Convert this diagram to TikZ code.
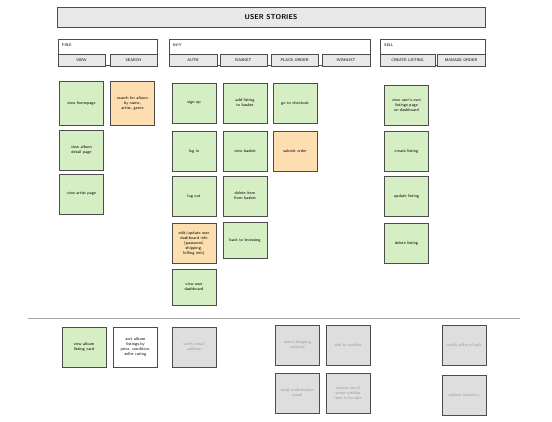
\documentclass[tikz,border=0pt]{standalone}
\definecolor{notegreen}{RGB}{214,238,196}
\definecolor{noteorange}{RGB}{253,222,176}
\definecolor{notegrey}{RGB}{222,222,222}
\definecolor{hdrgrey}{RGB}{232,232,232}
\hyphenpenalty=10000
\exhyphenpenalty=10000
\begin{document}
\begin{tikzpicture}[x=1pt,y=-1pt,
  every node/.style={font=\sffamily},
  tiny/.style={font={\sffamily\fontsize{4.2}{5}\selectfont}},
  note/.style={tiny,draw=black!70,line width=0.6pt,minimum width=44pt,minimum height=40pt,text width=35pt,align=center,inner sep=0pt},
  gnote/.style={note,fill=notegreen},
  onote/.style={note,fill=noteorange},
  wnote/.style={note,fill=white},
  xnote/.style={note,fill=notegrey,text=black!40},
  grp/.style={draw=black!70,line width=0.6pt,fill=white,minimum height=26pt,inner sep=0pt},
  sub/.style={draw=black!70,line width=0.6pt,fill=hdrgrey,minimum height=12pt,inner sep=0pt,font={\sffamily\fontsize{3.9}{4.6}\selectfont}},
  lbl/.style={anchor=west,inner sep=0pt,font={\sffamily\fontsize{3.9}{4.6}\selectfont}}]
\useasboundingbox (0,0) rectangle (552,422);
\fill[white] (0,0) rectangle (552,422);
% title
\node[draw=black!70,line width=0.6pt,fill=hdrgrey,minimum width=428pt,minimum height=20pt,font={\sffamily\bfseries\fontsize{7}{8}\selectfont}] (title) at (271,17) {USER STORIES};
% group headers
\node[grp,minimum width=99pt] (find) at (107.5,52.5) {};
\node[lbl] (findl) at (62,45) {FIND};
\node[sub,minimum width=47pt] (view) at (81.5,60) {VIEW};
\node[sub,minimum width=47pt] (search) at (133.5,60) {SEARCH};
\node[grp,minimum width=201pt] (buy) at (269.5,52.5) {};
\node[lbl] (buyl) at (173,45) {BUY};
\node[sub,minimum width=48pt] (auth) at (193,60) {AUTH};
\node[sub,minimum width=47pt] (basket) at (243.5,60) {BASKET};
\node[sub,minimum width=47pt] (place) at (294.5,60) {PLACE ORDER};
\node[sub,minimum width=48pt] (wish) at (346,60) {WISHLIST};
\node[grp,minimum width=105pt] (sell) at (432.5,52.5) {};
\node[lbl] (selll) at (384,45) {SELL};
\node[sub,minimum width=55pt] (create) at (407.5,60) {CREATE LISTING};
\node[sub,minimum width=48pt] (manage) at (461,60) {MANAGE ORDER};
% FIND
\node[gnote,minimum height=44pt] (n1) at (81.5,103) {view homepage};
\node[onote,minimum height=44pt] (n2) at (132.5,103) {search for album by name, artist, genre};
\node[gnote] (n3) at (81.5,150) {view album detail page};
\node[gnote] (n4) at (81.5,194) {view artist page};
% BUY
\node[gnote] (b1) at (194,103) {sign up};
\node[gnote] (b2) at (245,103) {add listing to basket};
\node[gnote] (b3) at (295,103) {go to checkout};
\node[gnote] (b4) at (194,151) {log in};
\node[gnote] (b5) at (245,151) {view basket};
\node[onote] (b6) at (295,151) {submit order};
\node[gnote] (b7) at (194,196) {log out};
\node[gnote] (b8) at (245,196) {delete item from basket};
\node[onote] (b9) at (194,243) {edit/update user dashboard info (password, shipping, billing info)};
\node[gnote,minimum height=36pt] (b10) at (245,240) {back to browsing};
\node[gnote,minimum height=36pt] (b11) at (194,287) {view user dashboard};
% SELL
\node[gnote] (s1) at (406.5,105) {view user's own listings page on dashboard};
\node[gnote] (s2) at (406.5,151) {create listing};
\node[gnote] (s3) at (406.5,196) {update listing};
\node[gnote] (s4) at (406.5,243) {delete listing};
% separator
\coordinate (sepa) at (28,318);
\coordinate (sepb) at (520,318);
\draw[black!35,line width=0.8pt] (sepa) -- (sepb);
% backlog
\node[gnote] (k1) at (84,347) {view album listing card};
\node[wnote] (k2) at (135.5,347) {sort album listings by price, condition, seller rating};
\node[xnote] (k3) at (194,347) {verify email address};
\node[xnote] (k4) at (297.5,345) {select shipping method};
\node[xnote] (k5) at (348,345) {add to wishlist};
\node[xnote] (k6) at (297.5,393) {send confirmation email};
\node[xnote] (k7) at (348,393) {receive email when wishlist item is for sale};
\node[xnote] (k8) at (464,345) {notify seller of sale};
\node[xnote] (k9) at (464,395) {update inventory};
\end{tikzpicture}
\end{document}
